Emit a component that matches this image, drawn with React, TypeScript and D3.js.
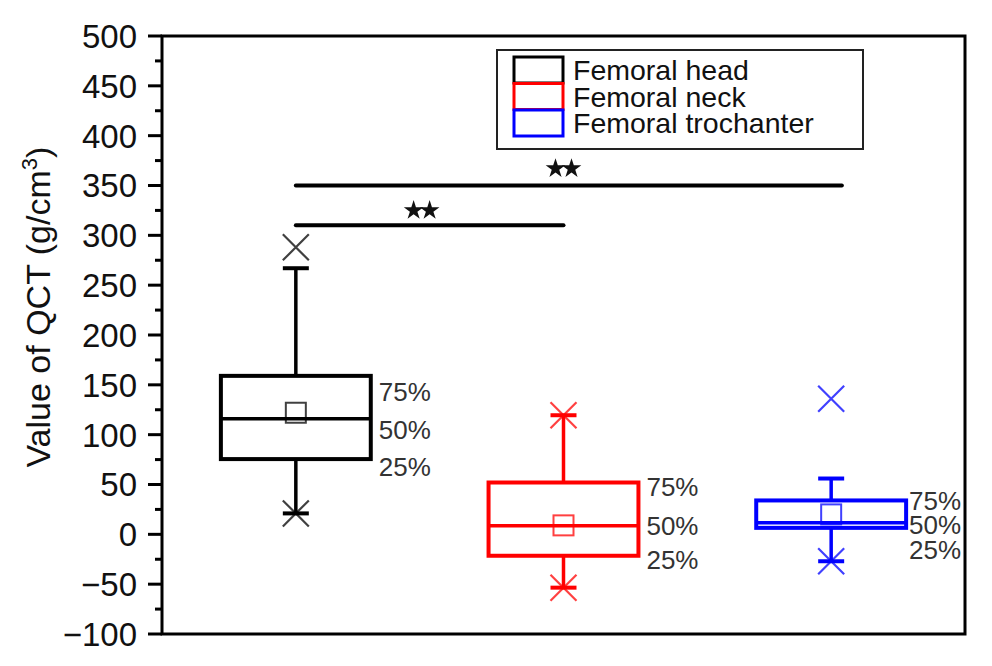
import React from 'react';
import * as d3 from 'd3';

const categories = ['Femoral head', 'Femoral neck', 'Femoral trochanter'];
const colors = ['#000000', '#ff0000', '#0000ff'];
const q1 = [75.5, -21.5, 6.5];
const median = [116, 8.5, 11.5];
const q3 = [159, 52, 34];
const mean = [122, 9, 20];
const whiskerLow = [21, -53.5, -27];
const whiskerHigh = [267, 119.5, 56];
const markLow = [21, -53.5, -27];
const markHigh = [288, 119.5, 136];
const percentLabels = ['75%', '50%', '25%'];
const percentLabelValues = [
  [143, 105, 68],
  [47.5, 8.6, -25.8],
  [33.7, 9.3, -15.8],
];
const yMajorTicks = d3.range(-100, 501, 50);
const yMinorTicks = d3.range(-75, 500, 50);
const sigFrom = [1, 1];
const sigTo = [2, 3.04];
const sigLevel = [310, 350];
const sigStarX = [1.47, 2.0];
const sigLabelLevel = [325, 367];

const W = 992;
const H = 666;
const FONT = "'Liberation Sans', Arial, Helvetica, sans-serif";

export default function App() {
  const x = d3.scaleLinear().domain([0.5, 3.5]).range([162, 965]);
  const y = d3.scaleLinear().domain([-100, 500]).range([634, 36]);
  const boxW = x(1.28) - x(0.72);
  const capW = 26;
  const mk = 13;
  const meanSz = 20;
  const fmt = d3.format('d');
  const star = d3.symbol().type(d3.symbolStar).size(120);

  return (
    <svg width={W} height={H} style={{ position: 'absolute', left: 0, top: 0, background: '#fff' }}>
      <rect x={0} y={0} width={W} height={H} fill="#fff" />
      {/* frame */}
      <rect x={x(0.5)} y={y(500)} width={x(3.5) - x(0.5)} height={y(-100) - y(500)} fill="none" stroke="#000" strokeWidth={3} />
      {/* y ticks */}
      {yMajorTicks.map((t) => (
        <g key={'M' + t}>
          <line x1={x(0.5) - 14} x2={x(0.5)} y1={y(t)} y2={y(t)} stroke="#000" strokeWidth={3} />
          <text x={137} y={y(t)} dy="0.36em" textAnchor="end" fontFamily={FONT} fontSize={33} fill="#111">
            {fmt(t)}
          </text>
        </g>
      ))}
      {yMinorTicks.map((t) => (
        <line key={'m' + t} x1={x(0.5) - 7} x2={x(0.5)} y1={y(t)} y2={y(t)} stroke="#000" strokeWidth={3} />
      ))}
      {/* y title */}
      <text transform={`translate(38,${y(228)}) rotate(-90)`} textAnchor="middle" dy="0.36em" fontFamily={FONT} fontSize={34} fill="#111">
        Value of QCT (g/cm
        <tspan fontSize={22} dy={-13}>3</tspan>
        <tspan dy={13}>)</tspan>
      </text>

      {/* boxes */}
      {categories.map((c, i) => {
        const cx = x(i + 1);
        const col = colors[i];
        return (
          <g key={c}>
            <line x1={cx} x2={cx} y1={y(q3[i])} y2={y(whiskerHigh[i])} stroke={col} strokeWidth={3.5} />
            <line x1={cx} x2={cx} y1={y(q1[i])} y2={y(whiskerLow[i])} stroke={col} strokeWidth={3.5} />
            <line x1={cx - capW / 2} x2={cx + capW / 2} y1={y(whiskerHigh[i])} y2={y(whiskerHigh[i])} stroke={col} strokeWidth={4} />
            <line x1={cx - capW / 2} x2={cx + capW / 2} y1={y(whiskerLow[i])} y2={y(whiskerLow[i])} stroke={col} strokeWidth={4} />
            <rect x={cx - boxW / 2} y={y(q3[i])} width={boxW} height={y(q1[i]) - y(q3[i])} fill="none" stroke={col} strokeWidth={4} />
            <line x1={cx - boxW / 2} x2={cx + boxW / 2} y1={y(median[i])} y2={y(median[i])} stroke={col} strokeWidth={3.5} />
            <rect x={cx - meanSz / 2} y={y(mean[i]) - meanSz / 2} width={meanSz} height={meanSz} fill="none" stroke={col} strokeOpacity={0.75} strokeWidth={2} />
            {[markLow[i], markHigh[i]].map((v, k) => (
              <path key={k} d={`M${cx - mk},${y(v) - mk}L${cx + mk},${y(v) + mk}M${cx - mk},${y(v) + mk}L${cx + mk},${y(v) - mk}`} stroke={col} strokeOpacity={0.75} strokeWidth={2.2} fill="none" />
            ))}
            {percentLabels.map((p, k) => (
              <text key={p} x={cx + boxW / 2 + (i === 2 ? 3 : 8)} y={y(percentLabelValues[i][k])} dy="0.36em" fontFamily={FONT} fontSize={26} fill="#333">
                {p}
              </text>
            ))}
          </g>
        );
      })}

      {/* significance */}
      {sigFrom.map((f, i) => (
        <g key={'s' + i}>
          <line x1={x(f)} x2={x(sigTo[i])} y1={y(sigLevel[i])} y2={y(sigLevel[i])} stroke="#000" strokeWidth={4} strokeLinecap="round" />
          {[-8, 8].map((dx) => (
            <path key={dx} d={star() as string} transform={`translate(${x(sigStarX[i]) + dx},${y(sigLabelLevel[i])})`} fill="#111" />
          ))}
        </g>
      ))}

      {/* legend */}
      <rect x={497} y={50} width={366} height={99} fill="#fff" stroke="#222" strokeWidth={2} />
      {categories.map((c, i) => (
        <g key={'l' + c}>
          <rect x={514} y={57 + i * 26.5} width={49} height={26} fill="#fff" stroke={colors[i]} strokeWidth={3} />
          <text x={573} y={70 + i * 26.5} dy="0.36em" fontFamily={FONT} fontSize={28.5} fill="#111">
            {c}
          </text>
        </g>
      ))}
    </svg>
  );
}
